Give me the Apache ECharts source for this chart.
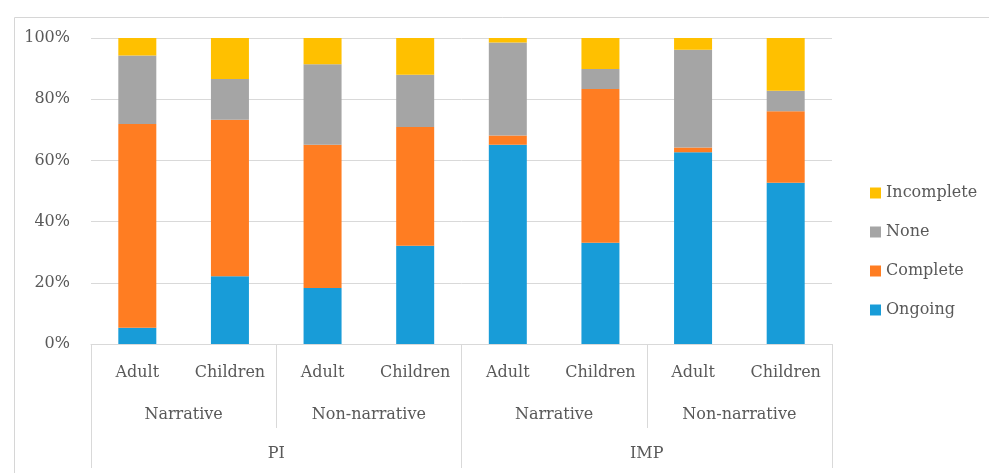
<!DOCTYPE html>
<html>
<head>
<meta charset="utf-8">
<title>Stacked completion chart</title>
<script src="https://cdn.jsdelivr.net/npm/echarts@6/dist/echarts.min.js"></script>
<style>
  html, body { margin: 0; padding: 0; background: #ffffff; }
  #chart { width: 989px; height: 473px; }
</style>
</head>
<body>
<div id="chart"></div>
<script>
// Category levels (innermost to outermost)
const groups = ['Adult', 'Children', 'Adult', 'Children', 'Adult', 'Children', 'Adult', 'Children'];
const textTypes = ['Narrative', 'Non-narrative', 'Narrative', 'Non-narrative'];
const tasks = ['PI', 'IMP'];

// Percentage shares per bar
const ongoing    = [5.3, 22.1, 18.3, 32.1, 65.1, 33.1, 62.7, 52.7];
const complete   = [66.6, 51.2, 46.8, 38.8, 3.0, 50.2, 1.5, 23.4];
const none       = [22.4, 13.3, 26.3, 17.1, 30.4, 6.6, 32.0, 6.7];
const incomplete = [5.7, 13.4, 8.6, 12.0, 1.5, 10.1, 3.8, 17.2];

const yTicks = [0, 20, 40, 60, 80, 100];

const FONT = 'DejaVu Serif';
const TEXT = '#595959';
const LINE = '#d9d9d9';

const chart = echarts.init(document.getElementById('chart'), null, { renderer: 'canvas' });

function barSeries(name, data, color) {
  return {
    name: name,
    type: 'bar',
    stack: 'total',
    data: data,
    barWidth: 38,
    itemStyle: { color: color },
    xAxisIndex: 0,
    yAxisIndex: 0
  };
}

chart.setOption({
  animation: false,
  backgroundColor: '#ffffff',
  textStyle: { fontFamily: FONT, color: TEXT },
  graphic: [{
    type: 'rect',
    left: 12,
    top: 15,
    shape: { width: 1000, height: 480 },
    style: { fill: 'none', stroke: '#d6d6d6', lineWidth: 1 },
    silent: true,
    z: -1
  }],
  grid: { left: 91, right: 157, top: 38, bottom: 129 },
  legend: {
    orient: 'vertical',
    left: 865,
    top: 180,
    itemWidth: 11,
    itemHeight: 11,
    itemGap: 23,
    icon: 'rect',
    data: ['Incomplete', 'None', 'Complete', 'Ongoing'],
    textStyle: { fontFamily: FONT, fontSize: 16, color: TEXT }
  },
  xAxis: [
    {
      type: 'category',
      data: groups,
      position: 'bottom',
      axisLine: { show: true, lineStyle: { color: LINE, width: 1 } },
      axisTick: { show: false },
      axisLabel: { margin: 21, fontSize: 16, fontFamily: FONT, color: TEXT, interval: 0 }
    },
    {
      type: 'category',
      data: textTypes,
      position: 'bottom',
      axisLine: { show: false },
      axisTick: { show: true, length: 84, lineStyle: { color: LINE, width: 1 } },
      axisLabel: { margin: 63, fontSize: 16, fontFamily: FONT, color: TEXT, interval: 0 }
    },
    {
      type: 'category',
      data: tasks,
      position: 'bottom',
      axisLine: { show: false },
      axisTick: { show: true, length: 124, lineStyle: { color: LINE, width: 1 } },
      axisLabel: { margin: 102, fontSize: 16, fontFamily: FONT, color: TEXT, interval: 0 }
    }
  ],
  yAxis: {
    type: 'value',
    min: yTicks[0],
    max: yTicks[yTicks.length - 1],
    interval: 20,
    axisLine: { show: false },
    axisTick: { show: false },
    axisLabel: { margin: 21, fontSize: 16, fontFamily: FONT, color: TEXT, formatter: '{value}%' },
    splitLine: { show: true, lineStyle: { color: LINE, width: 1 } }
  },
  series: [
    barSeries('Ongoing', ongoing, '#189cd8'),
    barSeries('Complete', complete, '#ff7d22'),
    barSeries('None', none, '#a5a5a5'),
    barSeries('Incomplete', incomplete, '#ffc000')
  ]
});
</script>
</body>
</html>
